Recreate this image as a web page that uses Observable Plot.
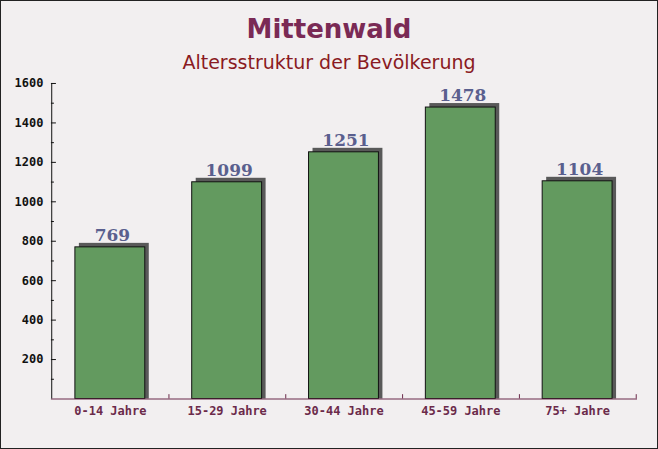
<!DOCTYPE html>
<html><head><meta charset="utf-8">
<script src="https://cdn.jsdelivr.net/npm/d3@7"></script>
<script src="https://cdn.jsdelivr.net/npm/@observablehq/plot@0.6"></script>
<style>
html,body{margin:0;padding:0;}
#wrap{position:relative;width:658px;height:449px;box-sizing:border-box;border:1px solid #222;background:#f2eff0;overflow:hidden;}
#title{position:absolute;left:0;right:0;top:13px;text-align:center;font:bold 26px "DejaVu Sans",sans-serif;color:#7a2a55;}
#sub{position:absolute;left:0;right:0;top:50px;text-align:center;font:19px "DejaVu Sans",sans-serif;color:#8a1a22;}
#chart{position:absolute;left:-1px;top:71px;}
</style></head>
<body><div id="wrap"><div id="title">Mittenwald</div><div id="sub">Altersstruktur der Bevölkerung</div><div id="chart"></div></div>
<script>
const categories = ["0-14 Jahre","15-29 Jahre","30-44 Jahre","45-59 Jahre","75+ Jahre"];
const values = [769,1099,1251,1478,1104];
const majorTicks = [200,400,600,800,1000,1200,1400,1600];
const minorTicks = [100,300,500,700,900,1100,1300,1500];
const data = categories.map((c,i)=>({c, v: values[i]}));

const W = 658, H = 378, mL = 51, mR = 20;
const step = (W - mL - mR) / categories.length;

const plot = Plot.plot({
  width: W, height: H,
  marginLeft: mL, marginRight: mR, marginTop: 11, marginBottom: 51,
  style: {background: "transparent", overflow: "visible"},
  x: {domain: categories, paddingInner: 0.4, paddingOuter: 0.2, label: null},
  y: {domain: [0,1600], label: null},
  marks: [
    Plot.barY(data, {x: "c", y: "v", fill: "#595959", dx: 4, dy: -4, insetBottom: -4}),
    Plot.barY(data, {x: "c", y: "v", fill: "#639a5f", stroke: "#111", strokeWidth: 1}),
    Plot.text(data, {x: "c", y: "v", text: d => String(d.v), dy: -12, dx: 2, fill: "#5a5f8e",
      fontFamily: "DejaVu Serif, serif", fontWeight: "bold", fontSize: 17}),
    Plot.ruleY([0], {stroke: "#6b2a4a", strokeWidth: 1.2}),
    Plot.ruleX(categories, {x: d => d, dx: step/2, y1: 0, y2: 22, stroke: "#6b2a4a"}),
    Plot.ruleX(categories.slice(0,1), {x: d => d, dx: -step/2, y1: 0, y2: 1600, stroke: "#111"}),
    Plot.axisY({ticks: majorTicks, tickSize: 5, dx: 5, tickFormat: () => "", stroke: "#111"}),
    Plot.axisY({ticks: minorTicks, tickSize: 3, dx: 3, tickFormat: () => "", stroke: "#111"}),
    Plot.axisY({ticks: majorTicks, tickSize: 0, tickPadding: 8, tickFormat: d => String(d),
      fontFamily: "DejaVu Sans Mono, monospace", fontWeight: "bold", fontSize: 12, fill: "#111"}),
    Plot.axisX({tickSize: 0, tickPadding: 7, fontFamily: "DejaVu Sans Mono, monospace", fontWeight: "bold",
      fontSize: 12, fill: "#6b2a4a"})
  ]
});
document.getElementById("chart").appendChild(plot);
</script>
</body></html>
